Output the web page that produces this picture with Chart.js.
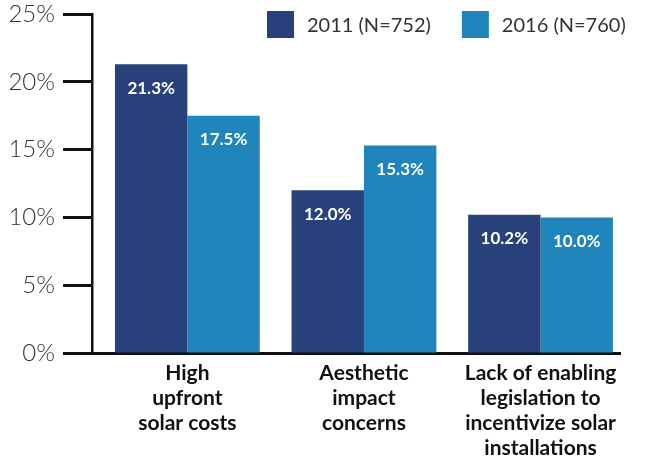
<!DOCTYPE html>
<html>
<head>
<meta charset="utf-8">
<script src="https://cdn.jsdelivr.net/npm/chart.js@4.4.1/dist/chart.umd.min.js"></script>
<style>
  html, body { margin: 0; padding: 0; background: #fff; }
  #wrap { width: 648px; height: 459px; }
</style>
</head>
<body>
<div id="wrap"><canvas id="barChart"></canvas></div>
<script>
const categories = [
  ['High', 'upfront', 'solar costs'],
  ['Aesthetic', 'impact', 'concerns'],
  ['Lack of enabling', 'legislation to', 'incentivize solar', 'installations']
];
const series2011 = [21.3, 12.0, 10.2];
const series2016 = [17.5, 15.3, 10.0];
const seriesNames = ['2011 (N=752)', '2016 (N=760)'];
const yTicks = [0, 5, 10, 15, 20, 25];

const DARK = '#28417a';
const LIGHT = '#1f85ba';

// white value labels just under the top of each bar
const barValues = {
  id: 'barValues',
  afterDatasetsDraw(chart) {
    const ctx = chart.ctx;
    ctx.save();
    ctx.fillStyle = '#fff';
    ctx.font = 'bold 17px Lato';
    ctx.textAlign = 'center';
    ctx.textBaseline = 'middle';
    chart.data.datasets.forEach((ds, i) => {
      chart.getDatasetMeta(i).data.forEach((bar, j) => {
        ctx.fillText(ds.data[j].y.toFixed(1) + '%', bar.x, bar.y + 24);
      });
    });
    ctx.restore();
  }
};

// legend boxes in the top right corner, over the plot
const topLegend = {
  id: 'topLegend',
  afterDraw(chart) {
    const ctx = chart.ctx;
    ctx.save();
    ctx.font = '400 20px Lato';
    ctx.textBaseline = 'middle';
    let x = 267;
    const y = 11, box = 27;
    chart.data.datasets.forEach(ds => {
      ctx.fillStyle = ds.backgroundColor;
      ctx.fillRect(x, y, box, box);
      ctx.fillStyle = '#333';
      ctx.fillText(ds.label, x + box + 13, y + box / 2 + 1);
      x += box + 13 + ctx.measureText(ds.label).width + 31;
    });
    ctx.restore();
  }
};

const ctx = document.getElementById('barChart').getContext('2d');
new Chart(ctx, {
  type: 'bar',
  data: {
    datasets: [
      { label: seriesNames[0], data: series2011.map((v, i) => ({ x: i, y: v })), backgroundColor: DARK },
      { label: seriesNames[1], data: series2016.map((v, i) => ({ x: i, y: v })), backgroundColor: LIGHT }
    ]
  },
  options: {
    responsive: true,
    maintainAspectRatio: false,
    animation: false,
    layout: { padding: { top: 14, right: 28, left: 0, bottom: 0 } },
    datasets: {
      bar: { categoryPercentage: 0.82, barPercentage: 1.0 }
    },
    plugins: {
      legend: { display: false },
      tooltip: { enabled: false }
    },
    scales: {
      x: {
        type: 'linear',
        offset: false,
        min: -0.54,
        max: 2.45,
        afterBuildTicks(scale) {
          scale.ticks = categories.map((c, i) => ({ value: i }));
        },
        grid: { display: false, drawTicks: false },
        border: { color: '#111', width: 3 },
        ticks: {
          color: '#111',
          padding: 8,
          maxRotation: 0,
          autoSkip: false,
          font: { family: 'Lato', size: 21, weight: 'bold', lineHeight: '25px' },
          callback: v => categories[v]
        },
        afterFit(scale) { scale.height = 106; }
      },
      y: {
        min: 0,
        max: 25,
        afterBuildTicks(scale) {
          scale.ticks = yTicks.map(v => ({ value: v }));
        },
        grid: {
          drawOnChartArea: false,
          drawTicks: true,
          tickLength: 29,
          tickWidth: 3,
          color: '#111'
        },
        border: { color: '#111', width: 2.5 },
        ticks: {
          color: '#333',
          padding: 8,
          font: { family: 'Lato', size: 24, weight: '300' },
          callback: v => v + '%'
        },
        afterFit(scale) {
          scale.width = 92;
          scale.paddingTop = 0;
          scale.paddingBottom = 0;
        }
      }
    }
  },
  plugins: [barValues, topLegend]
});
</script>
</body>
</html>
